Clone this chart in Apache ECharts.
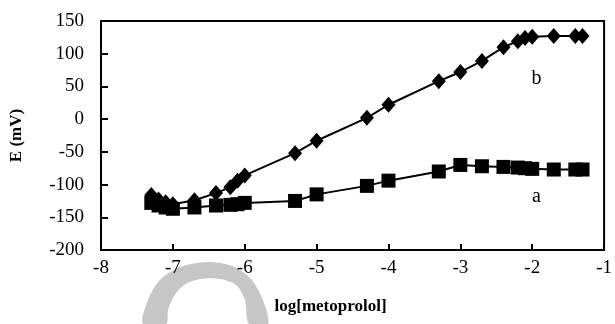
<!DOCTYPE html>
<html>
<head>
<meta charset="utf-8">
<script src="https://cdn.jsdelivr.net/npm/echarts@6/dist/echarts.min.js"></script>
<style>
  html, body { margin: 0; padding: 0; background: #fff; }
  #chart { width: 615px; height: 324px; }
</style>
</head>
<body>
<div id="chart"></div>
<script>
const logConc = [-7.3, -7.2, -7.1, -7.0, -6.7, -6.4, -6.2, -6.1, -6.0, -5.3, -5.0, -4.3, -4.0,
  -3.3, -3.0, -2.7, -2.4, -2.2, -2.1, -2.0, -1.7, -1.4, -1.3];
// curve b (diamonds)
const seriesB = [-116, -123, -127, -130, -124, -113, -104, -94, -86, -52, -33, 2, 22,
  58, 72, 89, 110, 119, 124, 126, 127, 127, 127];
// curve a (squares)
const seriesA = [-128, -132, -135, -137, -135, -132, -131, -130, -128, -125, -115, -102, -94,
  -80, -70, -72, -73, -74, -75, -76, -77, -77, -77];
const xTicks = [-8, -7, -6, -5, -4, -3, -2, -1];
const yTicks = [-200, -150, -100, -50, 0, 50, 100, 150];

const serif = "Liberation Serif";
const pairs = (ys) => logConc.map((x, i) => [x, ys[i]]);

// grey watermark arc at the bottom (decoration only)
const watermark = [
  [143, 324], [148, 300], [160, 280], [180, 267], [208, 262], [232, 266], [250, 278], [262, 298], [268, 324],
  [249, 324], [245, 300], [236, 285], [220, 279], [200, 279], [184, 285], [174, 296], [168, 310], [166, 324],
];

const chart = echarts.init(document.getElementById("chart"));

chart.setOption({
  animation: false,
  grid: {
    left: 100, right: 9, top: 21, bottom: 74,
    show: true, borderColor: "#000", borderWidth: 2,
  },
  xAxis: {
    type: "value",
    min: xTicks[0], max: xTicks[xTicks.length - 1], interval: 1,
    name: "log[metoprolol]",
    nameLocation: "middle",
    nameGap: 48,
    nameTextStyle: { fontFamily: serif, fontWeight: "bold", fontSize: 17, color: "#000", padding: [0, 44, 0, 0] },
    axisLine: { onZero: false, lineStyle: { color: "#000", width: 2 } },
    axisTick: { inside: true, length: 6, lineStyle: { color: "#000", width: 2 } },
    axisLabel: { fontFamily: serif, fontSize: 19, color: "#000", margin: 9 },
    splitLine: { show: false },
  },
  yAxis: {
    type: "value",
    min: yTicks[0], max: yTicks[yTicks.length - 1], interval: 50,
    name: "E (mV)",
    nameLocation: "middle",
    nameGap: 76,
    nameRotate: 90,
    nameTextStyle: { fontFamily: serif, fontWeight: "bold", fontSize: 17, color: "#000" },
    axisLine: { show: true, onZero: false, lineStyle: { color: "#000", width: 2 } },
    axisTick: { show: true, inside: true, length: 7, lineStyle: { color: "#000", width: 2 } },
    axisLabel: { fontFamily: serif, fontSize: 19, color: "#000", margin: 17 },
    splitLine: { show: false },
  },
  graphic: [{
    type: "polygon",
    z: -10,
    shape: { points: watermark, smooth: 0.3 },
    style: { fill: "#c6c6c6" },
  }],
  series: [
    {
      type: "line",
      data: pairs(seriesB),
      symbol: "diamond",
      symbolSize: [14, 16],
      itemStyle: { color: "#000" },
      lineStyle: { color: "#000", width: 2 },
      markPoint: {
        symbolSize: 0,
        label: { show: true, formatter: "b", fontFamily: serif, fontSize: 20, color: "#000" },
        data: [{ coord: [-1.94, 61] }],
      },
    },
    {
      type: "line",
      data: pairs(seriesA),
      symbol: "rect",
      symbolSize: 14,
      itemStyle: { color: "#000" },
      lineStyle: { color: "#000", width: 2 },
      markPoint: {
        symbolSize: 0,
        label: { show: true, formatter: "a", fontFamily: serif, fontSize: 20, color: "#000" },
        data: [{ coord: [-1.94, -119] }],
      },
    },
  ],
});
</script>
</body>
</html>
